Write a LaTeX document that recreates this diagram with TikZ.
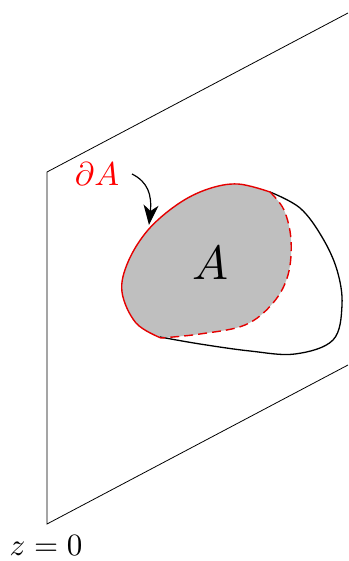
\documentclass[tikz,border=0pt]{standalone}
\usetikzlibrary{arrows.meta}
\begin{document}
\begin{tikzpicture}[x=1pt,y=-1pt,
  plane/.style={line width=0.8pt,black},
  redline/.style={line width=1.4pt,red!90!black},
  outer/.style={line width=1.3pt,black},
  lbl/.style={inner sep=0pt}]
\useasboundingbox (0,0) rectangle (348,561);
% plane
\coordinate (p1) at (47,172);
\coordinate (p2) at (348,13);
\coordinate (p3) at (47,524);
\coordinate (p4) at (348,365);
\draw[plane] (p2) -- (p1) -- (p3) -- (p4);
% region A
\fill[black!25] plot[smooth,tension=0.6] coordinates {(161,338) (136,323) (122,292) (128,262) (148,230) (178,204) (208,189) (238,184) (270,192)}
  -- plot[smooth,tension=0.6] coordinates {(270,192) (284,210) (291,240) (288,275) (273,303) (245,325) (200,334) (161,338)} -- cycle;
% outer black curve
\draw[outer] plot[smooth,tension=0.6] coordinates {(270,192) (300,208) (322,237) (337,270) (342,305) (333,340) (295,354) (250,351) (200,344) (160,337)};
% red boundary
\draw[redline] plot[smooth,tension=0.6] coordinates {(161,338) (136,323) (122,292) (128,262) (148,230) (178,204) (208,189) (238,184) (270,192)};
\draw[redline,dashed,dash pattern=on 9pt off 5pt] plot[smooth,tension=0.6] coordinates {(270,192) (284,210) (291,240) (288,275) (273,303) (245,325) (200,334) (161,338)};
% labels
\node[lbl,scale=4.8] (A) at (210,263) {$A$};
\node[lbl,scale=3.3,text=red] (dA) at (97,174) {$\partial A$};
\node[lbl,scale=3.1] (z) at (46,546) {$z=0$};
% arrow
\coordinate (as) at (132,174);
\coordinate (ae) at (149,225);
\draw[line width=1.2pt,-{Stealth[length=20pt,width=15pt,inset=6pt]}] (as) .. controls (148,182) and (152,195) .. (ae);
\end{tikzpicture}
\end{document}
